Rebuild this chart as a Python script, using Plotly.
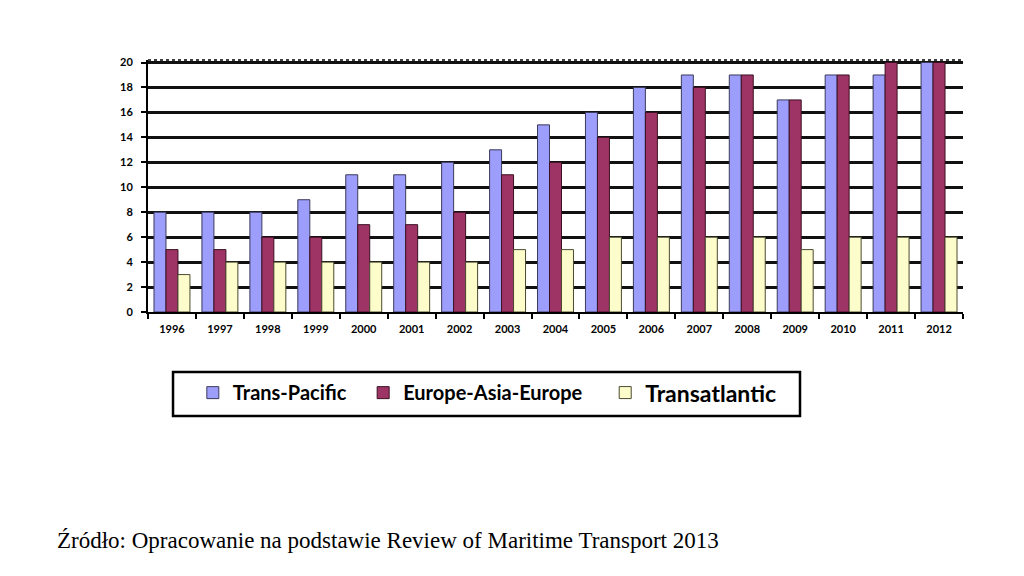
import plotly.graph_objects as go

years = ["1996", "1997", "1998", "1999", "2000", "2001", "2002", "2003", "2004",
         "2005", "2006", "2007", "2008", "2009", "2010", "2011", "2012"]
trans_pacific = [8, 8, 8, 9, 11, 11, 12, 13, 15, 16, 18, 19, 19, 17, 19, 19, 20]
europe_asia = [5, 5, 6, 6, 7, 7, 8, 11, 12, 14, 16, 18, 19, 17, 19, 20, 20]
transatlantic = [3, 4, 4, 4, 4, 4, 4, 5, 5, 6, 6, 6, 6, 5, 6, 6, 6]
y_ticks = [0, 2, 4, 6, 8, 10, 12, 14, 16, 18, 20]

fig = go.Figure()
fig.add_trace(go.Bar(x=years, y=trans_pacific, name="Trans-Pacific",
                     marker=dict(color="#9d9dfb", line=dict(color="#3a3a5a", width=1)),
                     legend="legend"))
fig.add_trace(go.Bar(x=years, y=europe_asia, name="Europe-Asia-Europe",
                     marker=dict(color="#9e3466", line=dict(color="#3a1020", width=1)),
                     legend="legend2"))
fig.add_trace(go.Bar(x=years, y=transatlantic, name="Transatlantic",
                     marker=dict(color="#fdfdcc", line=dict(color="#4a4a30", width=1)),
                     legend="legend3"))

leg_common = dict(orientation="h", yanchor="middle", y=-0.32, bgcolor="rgba(0,0,0,0)",
                  borderwidth=0, itemwidth=30)

fig.update_layout(
    width=1024, height=576,
    margin=dict(l=140, r=69, t=52, b=272),
    paper_bgcolor="white", plot_bgcolor="white",
    barmode="group", bargap=0.25, bargroupgap=0.0,
    showlegend=True,
    legend=dict(x=0.055, xanchor="left",
                font=dict(family="Lato", size=20, color="black", weight="bold"), **leg_common),
    legend2=dict(x=0.264, xanchor="left",
                 font=dict(family="Lato", size=20, color="black", weight="bold"), **leg_common),
    legend3=dict(x=0.561, xanchor="left",
                 font=dict(family="Lato", size=23, color="black", weight="bold"), **leg_common),
    xaxis=dict(showline=True, linecolor="black", linewidth=2, ticks="outside",
               tickson="boundaries", ticklen=5, tickcolor="black", tickwidth=2,
               ticklabelstandoff=6,
               tickfont=dict(family="Lato", size=11, color="black", weight="bold"),
               showgrid=False),
    yaxis=dict(range=[0, 20.2], tickvals=y_ticks, showline=True, linecolor="black",
               linewidth=2, ticks="outside", ticklen=5, tickcolor="black", tickwidth=2,
               ticklabelstandoff=6,
               tickfont=dict(family="Lato", size=11, color="black", weight="bold"),
               showgrid=True, gridcolor="#111111", gridwidth=2.5, zeroline=False),
    shapes=[
        dict(type="line", xref="paper", yref="paper", x0=0, x1=1, y0=1, y1=1,
             line=dict(color="black", width=1.5, dash="dot")),
        dict(type="rect", xref="paper", yref="paper", x0=0.0307, x1=0.8, y0=-0.413, y1=-0.238,
             line=dict(color="black", width=2.5), fillcolor="rgba(0,0,0,0)"),
    ],
    annotations=[
        dict(text="Źródło: Opracowanie na podstawie Review of Maritime Transport 2013",
             xref="paper", yref="paper", x=-0.114, y=-0.905, xanchor="left", yanchor="middle",
             showarrow=False, font=dict(family="Liberation Serif", size=23, color="black")),
    ],
)

fig.write_html("out.html")
